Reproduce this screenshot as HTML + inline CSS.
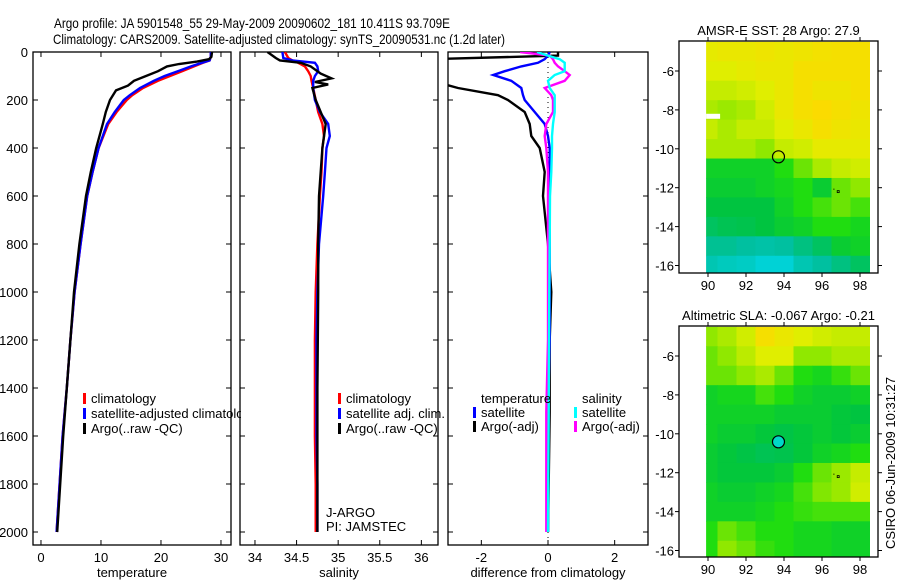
<!DOCTYPE html>
<html><head><meta charset="utf-8"><style>
body{margin:0;background:#fff;}
svg{display:block;font-family:"Liberation Sans",sans-serif;}
</style></head><body>
<svg id="fig" width="900" height="580" viewBox="0 0 900 580" xmlns="http://www.w3.org/2000/svg">
<rect width="900" height="580" fill="#fff"/>
<defs><clipPath id="legclip"><rect x="0" y="0" width="241" height="580"/></clipPath></defs>
<text x="54" y="28" font-size="14" textLength="396" lengthAdjust="spacingAndGlyphs">Argo profile: JA 5901548_55 29-May-2009 20090602_181 10.411S 93.709E</text>
<text x="53" y="44" font-size="14" textLength="452" lengthAdjust="spacingAndGlyphs">Climatology: CARS2009. Satellite-adjusted climatology: synTS_20090531.nc (1.2d later)</text>
<g id="panels"></g>
<g id="maps"></g>
<text transform="translate(895,463) rotate(-90)" font-size="13" text-anchor="middle">CSIRO 06-Jun-2009 10:31:27</text>
</svg>
<script>
// ---------- profile data ----------
const depthTicks = [0,200,400,600,800,1000,1200,1400,1600,1800,2000];
const tempTicks = [0,10,20,30];
const salTicks = [34,34.5,35,35.5,36];
const diffTicks = [-2,0,2];

const tClimDepth = [0,20,35,45,60,80,100,120,150,180,200,250,300,400,500,600,800,1000,1200,1400,1600,1800,2000];
const tClim      = [28.3,28.3,28.1,27,25.5,23.5,21.5,19.5,17,15.2,14.3,12.6,11.2,9.6,8.6,7.7,6.6,5.6,4.9,4.3,3.6,3.1,2.6];
const tSat       = [28.3,28.3,28.1,26.8,25,22.8,20.6,18.8,16.5,14.8,13.8,12.3,11.0,9.6,8.6,7.7,6.6,5.6,4.9,4.3,3.6,3.1,2.6];
const tArgoDepth = [0,20,30,40,50,60,80,100,120,140,160,200,250,300,400,500,600,800,1000,1200,1400,1600,1800,2000];
const tArgo      = [28.5,28.4,28,26,23,21,19.5,17.5,15.5,14.5,12.5,11.5,10.8,10.3,9.2,8.3,7.5,6.4,5.5,4.9,4.3,3.7,3.2,2.7];

const sDepth = [0,25,35,45,60,80,100,120,150,200,250,300,350,400,500,600,800,1000,1200,1400,1600,1800,2000];
const sClim  = [34.36,34.4,34.45,34.52,34.6,34.64,34.67,34.68,34.7,34.73,34.76,34.81,34.83,34.81,34.8,34.78,34.75,34.73,34.72,34.72,34.72,34.73,34.73];
const sSat   = [34.33,34.34,34.45,34.72,34.75,34.76,34.72,34.7,34.7,34.72,34.78,34.88,34.9,34.86,34.84,34.82,34.77,34.75,34.74,34.74,34.74,34.75,34.75];
const sArgoDepth = [0,25,35,45,60,90,110,125,135,150,200,300,400,600,800,1000,1400,2000];
const sArgo      = [34.15,34.25,34.3,34.55,34.67,34.79,34.92,34.72,34.88,34.69,34.73,34.85,34.81,34.77,34.76,34.76,34.75,34.75];

const dDepth = [0,15,30,45,60,80,96,120,150,180,200,250,300,350,400,500,600,800,1000,1200,1500,2000];
const dTempSat  = [0.05,0.0,-0.1,-0.3,-0.8,-1.3,-1.64,-1.1,-0.8,-0.75,-0.7,-0.4,-0.1,0.0,0.05,0.05,0.05,0.05,0.05,0.05,0.0,0.0];
const dTempArgo = [0.3,0.3,-3.5,-3.5,-3.5,-3.5,-3.5,-3.5,-2.7,-1.5,-1.2,-0.7,-0.55,-0.5,-0.25,-0.1,-0.15,0.0,0.1,0.05,0.05,0.0];
const dSalSat   = [-0.33,0.0,0.35,0.5,0.5,0.5,0.2,0.0,0.05,0.2,0.2,0.2,0.15,0.12,0.12,0.1,0.06,0.05,0.04,0.03,0.02,0.0];
const dSalArgo  = [-0.84,0.05,0.15,0.2,0.3,0.5,0.65,0.5,-0.1,0.1,0.15,0.15,-0.05,-0.1,-0.05,0.0,0.0,0.0,0.0,0.0,-0.05,-0.05];

// ---------- map data (1-degree cells, rows lat -5..-16, cols lon 90..98), 0=cyan .. 1=orange ----------
const sstGrid = [
 [0.78,0.8,0.8,0.82,0.8,0.82,0.84,0.85,0.85],
 [0.75,0.75,0.78,0.8,0.8,0.85,0.85,0.85,0.85],
 [0.7,0.7,0.72,0.75,0.8,0.85,0.82,0.82,0.85],
 [0.65,0.62,0.65,0.72,0.8,0.85,0.88,0.85,0.82],
 [0.7,0.65,0.7,0.7,0.75,0.8,0.85,0.82,0.8],
 [0.65,0.65,0.65,0.6,0.7,0.72,0.78,0.78,0.78],
 [0.4,0.4,0.4,0.4,0.45,0.55,0.65,0.7,0.72],
 [0.38,0.38,0.38,0.4,0.42,0.45,0.38,0.55,0.6],
 [0.35,0.35,0.35,0.35,0.4,0.45,0.5,0.55,0.5],
 [0.3,0.32,0.33,0.35,0.38,0.4,0.45,0.45,0.42],
 [0.22,0.22,0.2,0.18,0.2,0.25,0.3,0.38,0.4],
 [0.15,0.12,0.1,0.05,0.05,0.15,0.2,0.25,0.3]];
const slaGrid = [
 [0.6,0.65,0.72,0.85,0.8,0.75,0.72,0.7,0.7],
 [0.55,0.6,0.68,0.75,0.75,0.6,0.6,0.65,0.65],
 [0.55,0.55,0.6,0.65,0.55,0.45,0.42,0.48,0.55],
 [0.4,0.42,0.42,0.5,0.45,0.4,0.38,0.38,0.4],
 [0.4,0.4,0.4,0.4,0.38,0.38,0.38,0.36,0.35],
 [0.4,0.38,0.38,0.36,0.34,0.36,0.38,0.36,0.38],
 [0.38,0.36,0.34,0.32,0.33,0.36,0.4,0.42,0.45],
 [0.38,0.36,0.36,0.36,0.38,0.45,0.55,0.62,0.7],
 [0.4,0.38,0.38,0.4,0.42,0.5,0.58,0.62,0.72],
 [0.4,0.4,0.4,0.42,0.45,0.48,0.5,0.5,0.5],
 [0.45,0.55,0.5,0.45,0.45,0.42,0.42,0.4,0.4],
 [0.45,0.6,0.55,0.48,0.45,0.42,0.42,0.4,0.4]];
const lonTicks = [90,92,94,96,98];
const latTicks = [-6,-8,-10,-12,-14,-16];
const argoLon = 93.709, argoLat = -10.411;

const NS="http://www.w3.org/2000/svg";
function mk(tag,attrs,parent){const e=document.createElementNS(NS,tag);for(const k in attrs)e.setAttribute(k,attrs[k]);if(parent)parent.appendChild(e);return e;}

const TOP=52,BOT=545;
const yD = d => TOP + d*0.24;
const panelsG=document.getElementById('panels');

function panel(name,x0,x1,xmin,xmax,ticks,tickFmt,label,showDepth){
  const g=mk('g',{},panelsG);
  
  
  const xs=v=>x0+(v-xmin)/(xmax-xmin)*(x1-x0);
  const clip=mk('clipPath',{id:'clip-'+name},g);
  mk('rect',{x:x0,y:TOP,width:x1-x0,height:BOT-TOP},clip);
  const frame=mk('rect',{x:x0,y:TOP,width:x1-x0,height:BOT-TOP,fill:'none',stroke:'#000','stroke-width':1.3},g);
  
  
  ticks.forEach(t=>{
    const x=xs(t);
    mk('line',{x1:x,x2:x,y1:TOP,y2:TOP+5,stroke:'#000'},g);
    mk('line',{x1:x,x2:x,y1:BOT,y2:BOT-5,stroke:'#000'},g);
    const tl=mk('text',{x:x,y:BOT+17,'font-size':13,'text-anchor':'middle'},g);
    tl.textContent=tickFmt(t);
    
    
  });
  depthTicks.forEach(d=>{
    const y=yD(d);
    mk('line',{x1:x0,x2:x0+5,y1:y,y2:y,stroke:'#000'},g);
    mk('line',{x1:x1,x2:x1-5,y1:y,y2:y,stroke:'#000'},g);
    if(showDepth){
      const tl=mk('text',{x:x0-5,y:y+5,'font-size':13,'text-anchor':'end'},g);
      tl.textContent=d;
      
      
    }
  });
  const xl=mk('text',{x:(x0+x1)/2,y:BOT+32,'font-size':13,'text-anchor':'middle'},g);
  xl.textContent=label;
  
  
  const lines=mk('g',{'clip-path':'url(#clip-'+name+')'},g);
  return {g,xs,lines};
}
function series(p,depths,vals,color,name,w){
  let pts=[];
  for(let i=0;i<depths.length;i++){
    pts.push(p.xs(vals[i]).toFixed(1)+','+yD(depths[i]).toFixed(1));
  }
  const pl=mk('polyline',{points:pts.join(' '),fill:'none',stroke:color,'stroke-width':w||2.4,'stroke-linejoin':'miter'},p.lines);
  
  
}
function legend(p,x,y,color,txt,name,clip){
  const r=mk('rect',{x:x,y:y-10,width:3,height:11,fill:color},p.g);
  
  
  const t=mk('text',{x:x+8,y:y,'font-size':13},p.g);
  if(clip) t.setAttribute('clip-path','url(#legclip)');
  t.textContent=txt;
  
  
}

// temperature panel
const pT=panel('temperature-panel',33,231,-1.33,31.67,tempTicks,v=>v,'temperature',true);
series(pT,tClimDepth,tClim,'#f00','temp-climatology-line');
series(pT,tClimDepth,tSat,'#00f','temp-satellite-line');
series(pT,tArgoDepth,tArgo,'#000','temp-argo-line');
legend(pT,83,403,'#f00','climatology','legend-climatology');
legend(pT,83,418,'#00f','satellite-adjusted climatology','legend-satellite-adjusted',true);
legend(pT,83,433,'#000','Argo(..raw -QC)','legend-argo');

// salinity panel
const pS=panel('salinity-panel',240,438,33.82,36.2,salTicks,v=>v,'salinity',false);
series(pS,sDepth,sClim,'#f00','sal-climatology-line');
series(pS,sDepth,sSat,'#00f','sal-satellite-line');
series(pS,sArgoDepth,sArgo,'#000','sal-argo-line');
legend(pS,338,403,'#f00','climatology','legend-sal-climatology');
legend(pS,338,418,'#00f','satellite adj. clim.','legend-sal-satellite');
legend(pS,338,433,'#000','Argo(..raw -QC)','legend-sal-argo');
const j1=mk('text',{x:326,y:517,'font-size':13},pS.g);j1.textContent='J-ARGO';


const j2=mk('text',{x:326,y:531,'font-size':13},pS.g);j2.textContent='PI: JAMSTEC';



// difference panel
const pD=panel('difference-panel',448,648,-3,3,diffTicks,v=>v,'difference from climatology',false);
mk('line',{x1:pD.xs(0),x2:pD.xs(0),y1:TOP,y2:BOT,stroke:'#000','stroke-dasharray':'1,4'},pD.lines);
series(pD,dDepth,dTempArgo,'#000','diff-temp-argo-line');
series(pD,dDepth,dTempSat,'#00f','diff-temp-satellite-line');
series(pD,dDepth,dSalArgo,'#f0f','diff-sal-argo-line');
series(pD,dDepth,dSalSat,'#0ff','diff-sal-satellite-line');
const lt=mk('text',{x:481,y:403,'font-size':13},pD.g);lt.textContent='temperature';


const ls=mk('text',{x:582,y:403,'font-size':13},pD.g);ls.textContent='salinity';


legend(pD,473,417,'#00f','satellite','legend-diff-temp-satellite');
legend(pD,473,431,'#000','Argo(-adj)','legend-diff-temp-argo');
legend(pD,574,417,'#0ff','satellite','legend-diff-sal-satellite');
legend(pD,574,431,'#f0f','Argo(-adj)','legend-diff-sal-argo');

// ---------- maps ----------
const stops=[[0,[0,216,232]],[0.2,[0,192,160]],[0.35,[0,196,64]],[0.45,[32,221,16]],[0.6,[144,232,0]],[0.75,[224,238,0]],[0.9,[255,216,0]],[1,[255,192,0]]];
function cmap(v){
  for(let i=1;i<stops.length;i++){
    if(v<=stops[i][0]){const a=stops[i-1],b=stops[i];const f=(v-a[0])/(b[0]-a[0]);
      const c=a[1].map((x,k)=>Math.round(x+(b[1][k]-x)*f));return 'rgb('+c.join(',')+')';}
  }
  return 'rgb(255,192,0)';
}
const mapsG=document.getElementById('maps');
function drawMap(name,title,top,bot,grid,filled,notch){
  const X0=679,X1=878;
  const lonX=l=>708+(l-90)*19;
  const latY=l=>(top+30)+(-6-l)*19.45;
  const g=mk('g',{},mapsG);
  
  
  const tt=mk('text',{x:(X0+X1)/2,y:top-6,'font-size':13,'text-anchor':'middle'},g);
  tt.textContent=title;
  
  
  for(let r=0;r<grid.length;r++){
    for(let c=0;c<grid[r].length;c++){
      const lat=-5-r, lon=90+c;
      const xa=Math.max(lonX(lon-0.5),lonX(89.9)), xb=Math.min(lonX(lon+0.5),X1);
      const ya=Math.max(latY(lat+0.5),top), yb=Math.min(latY(lat-0.5),bot-1);
      const cell=mk('rect',{x:xa,y:ya,width:xb-xa+0.5,height:yb-ya+0.5,fill:cmap(grid[r][c])},g);
      
      
    }
  }
  if(notch) mk('rect',{x:lonX(89.9),y:latY(-8.2),width:14,height:5,fill:'#fff'},g);
  mk('rect',{x:lonX(96.6),y:latY(-12.05),width:1,height:1,fill:'#000'},g);
  mk('rect',{x:lonX(96.8),y:latY(-12.15),width:2,height:2,fill:'none',stroke:'#000','stroke-width':0.8},g);
  const fr=mk('rect',{x:X0,y:top,width:X1-X0,height:bot-top,fill:'none',stroke:'#000','stroke-width':1.3},g);
  
  
  lonTicks.forEach(l=>{const x=lonX(l);
    mk('line',{x1:x,x2:x,y1:bot,y2:bot+4,stroke:'#000'},g);
    mk('line',{x1:x,x2:x,y1:top,y2:top-4,stroke:'#000'},g);
    const t=mk('text',{x:x,y:bot+17,'font-size':13,'text-anchor':'middle'},g);t.textContent=l;
    
    
  });
  latTicks.forEach(l=>{const y=latY(l);
    mk('line',{x1:X0,x2:X0-4,y1:y,y2:y,stroke:'#000'},g);
    mk('line',{x1:X1,x2:X1+4,y1:y,y2:y,stroke:'#000'},g);
    const t=mk('text',{x:X0-5,y:y+5,'font-size':13,'text-anchor':'end'},g);t.textContent=l;
    
    
  });
  const c=mk('circle',{cx:lonX(argoLon),cy:latY(argoLat),r:6,fill:filled?'#00d8c8':'none',stroke:'#000','stroke-width':1.2},g);
  
  
}
drawMap('sst-map','AMSR-E SST: 28 Argo: 27.9',41,273,sstGrid,false,true);
drawMap('sla-map','Altimetric SLA: -0.067 Argo: -0.21',326,557,slaGrid,true,false);
</script>
</body></html>
